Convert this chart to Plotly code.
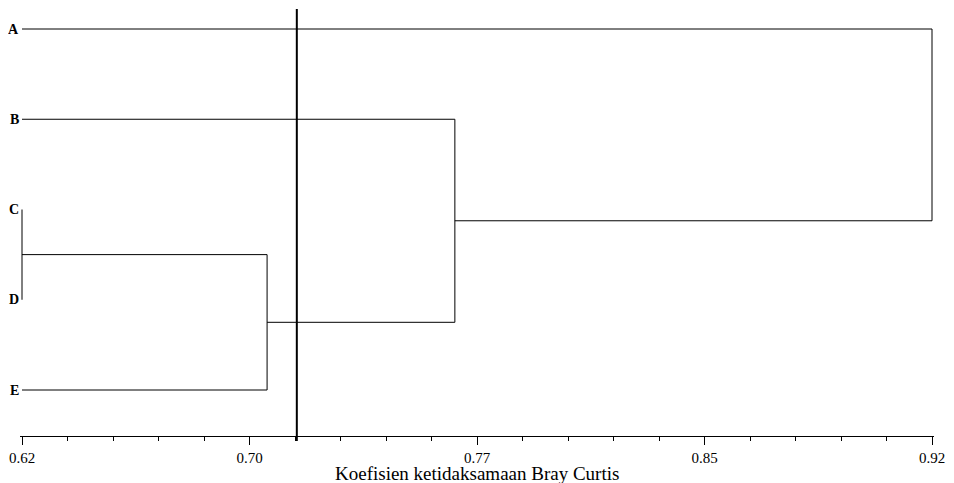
import plotly.graph_objects as go

# ---- data ----
leaves = ["A", "B", "C", "D", "E"]
# merges: (child1, child2, height, new_name)
merge_left = ["C", "CD", "CDE", "BCDE"]
merge_right = ["D", "E", "B", "A"]
merge_height = [0.62, 0.7008, 0.7627, 0.92]
merge_name = ["CD", "CDE", "BCDE", "ABCDE"]
leaf_height = 0.62
cutoff = 0.7106
major_vals = [0.62, 0.695, 0.77, 0.845, 0.92]
major_text = ["0.62", "0.70", "0.77", "0.85", "0.92"]
x_title = "Koefisien ketidaksamaan Bray Curtis"

# ---- build dendrogram segments ----
pos = {name: (leaf_height, i) for i, name in enumerate(leaves)}
xs, ys = [], []
for a, b, h, n in zip(merge_left, merge_right, merge_height, merge_name):
    xa, ya = pos[a]
    xb, yb = pos[b]
    xs += [xa, h, h, xb, None]
    ys += [ya, ya, yb, yb, None]
    pos[n] = (h, (ya + yb) / 2)

fig = go.Figure()
fig.add_trace(go.Scatter(x=xs, y=ys, mode="lines",
                         line=dict(color="black", width=1),
                         hoverinfo="skip", showlegend=False))

eps = 0.00066
# page body has an 8px margin, so the figure starts at (8, 8)
fig.update_layout(
    width=946, height=475,
    margin=dict(l=12, r=20, t=1, b=47),
    paper_bgcolor="white", plot_bgcolor="white",
    font=dict(family="Liberation Serif", color="black"),
    xaxis=dict(range=[0.62 - eps, 0.92 + eps], tickmode="array",
               tickvals=major_vals, ticktext=major_text,
               showline=True, linecolor="black", linewidth=1,
               ticks="outside", ticklen=8, tickcolor="black", tickwidth=1,
               showgrid=False, zeroline=False,
               tickfont=dict(size=15, family="Liberation Serif", color="black"),
               minor=dict(tickmode="linear", tick0=0.62, dtick=0.015,
                          ticks="outside", ticklen=4, tickcolor="black",
                          tickwidth=1, showgrid=False)),
    yaxis=dict(range=[4.5097, -0.2216], visible=False, showgrid=False,
               zeroline=False),
    shapes=[dict(type="line", xref="x", yref="paper",
                 x0=cutoff, x1=cutoff, y0=-0.012, y1=1.0,
                 line=dict(color="black", width=2))],
)

for i, name in enumerate(leaves):
    fig.add_annotation(x=0, xref="paper", y=i, yref="y", text="<b>%s</b>" % name,
                       xanchor="right", yanchor="middle", showarrow=False,
                       xshift=1, font=dict(size=14, family="Liberation Serif",
                                           color="black"))

fig.add_annotation(x=0.5, xref="paper", y=0, yref="paper", text=x_title,
                   xanchor="center", yanchor="middle", yshift=-37,
                   showarrow=False,
                   font=dict(size=19, family="Liberation Serif", color="black"))

fig.write_html("out.html")
